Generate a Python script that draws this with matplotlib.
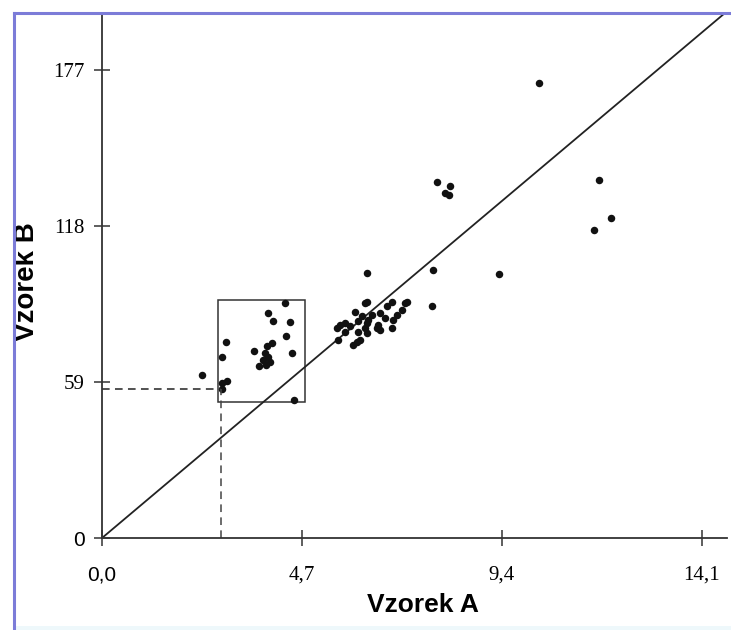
import matplotlib.pyplot as plt
from matplotlib.lines import Line2D
from matplotlib.patches import Rectangle

# points inside / near the highlighted box
box_a = [4.30, 3.89, 4.01, 4.42, 4.32, 2.91, 3.99, 3.88, 3.58, 4.46, 3.83,
         3.90, 3.78, 3.95, 3.85, 2.83, 3.69, 2.36, 2.93, 2.81, 2.81, 4.51]
box_b = [88.7, 85.1, 82.2, 81.7, 76.5, 74.3, 73.7, 72.7, 70.8, 70.1, 70.0,
         68.5, 67.4, 66.6, 65.5, 68.6, 65.1, 61.7, 59.5, 58.7, 56.3, 52.1]

# main cluster
cluster_a = [6.23, 6.24, 6.18, 7.18, 7.12, 6.81, 6.69, 7.04, 5.95, 6.53, 6.10,
             6.34, 6.93, 6.65, 5.59, 5.71, 5.83, 6.02, 6.22, 6.26, 6.49, 6.85,
             6.18, 6.46, 5.71, 5.52, 6.02, 6.53, 6.81, 6.22, 5.55, 5.99, 6.06, 5.91]
cluster_b = [100.4, 89.2, 88.7, 89.3, 88.9, 89.2, 87.7, 86.4, 85.4, 85.1, 83.9,
             84.5, 84.5, 83.2, 80.7, 81.3, 80.0, 81.9, 81.3, 82.6, 80.7, 82.6,
             79.4, 79.4, 78.1, 79.4, 78.1, 78.8, 79.4, 77.5, 75.0, 74.3, 75.0, 73.1]

# the rest
other_a = [7.77, 7.75, 10.26, 7.87, 8.18, 8.06, 8.16, 11.67, 11.96, 11.57, 9.34]
other_b = [101.2, 87.9, 172.0, 134.6, 133.3, 130.5, 129.8, 135.5, 121.0, 116.4, 99.7]

diag_a = [0, 14.6]
diag_b = [0, 198]

box_lo = (2.73, 51.4)
box_hi = (4.77, 90.0)
mark = (2.8, 56.3)

xticks = [0, 4.7, 9.4, 14.1]
xlabels = ['0,0', '4,7', '9,4', '14,1']
yticks = [0, 59, 118, 177]
ylabels = ['0', '59', '118', '177']

fig = plt.figure(figsize=(7.31, 6.3), dpi=100)
ax = fig.add_axes([102 / 731, 92 / 630, 625 / 731, 524 / 630])

ax.plot(diag_a, diag_b, color='#222222', lw=1.3)
for a, b in [(box_a, box_b), (cluster_a, cluster_b), (other_a, other_b)]:
    ax.plot(a, b, 'o', color='#111111', ms=5.4, mec='none')

ax.add_patch(Rectangle(box_lo, box_hi[0] - box_lo[0], box_hi[1] - box_lo[1],
                       fill=False, ec='#333333', lw=1.1))
ax.plot([0, mark[0]], [mark[1], mark[1]], ls=(0, (5, 3.5)), color='#222222', lw=1.1)
ax.plot([mark[0], mark[0]], [0, mark[1]], ls=(0, (5, 3.5)), color='#444444', lw=1.1)

ax.set_xlim(0, 14.69)
ax.set_ylim(0, 198.2)
for s in ['top', 'right']:
    ax.spines[s].set_visible(False)
for s in ['left', 'bottom']:
    ax.spines[s].set_linewidth(1.3)
    ax.spines[s].set_color('#333333')

ax.set_xticks(xticks)
ax.set_xticklabels(xlabels, family='Liberation Serif', fontsize=15)
ax.set_yticks(yticks)
ax.set_yticklabels(ylabels, family='Liberation Serif', fontsize=15)
ax.tick_params(direction='inout', length=11, width=1.1, color='#333333')
ax.tick_params(axis='x', pad=14)
ax.tick_params(axis='y', pad=7)
# zero labels are set in a sans font in the original
ax.get_xticklabels()[0].set_family('Liberation Sans')
ax.get_yticklabels()[0].set_family('Liberation Sans')

ax.set_xlabel('Vzorek A', family='Liberation Sans', fontweight='bold', fontsize=19)
ax.set_ylabel('Vzorek B', family='Liberation Sans', fontweight='bold', fontsize=20)
ax.xaxis.set_label_coords(321 / 625, -55 / 524)
ax.yaxis.set_label_coords(-62 / 625, 0.49)

# scanned page frame
fig.add_artist(Line2D([14 / 731, 14 / 731], [0, 617 / 630], color='#7c7cd8', lw=2.2))
fig.add_artist(Line2D([14 / 731, 730 / 731], [617 / 630, 617 / 630], color='#7c7cd8', lw=2.2))
fig.add_artist(Rectangle((15 / 731, 0), 716 / 731, 4 / 630, color='#eef8fb', lw=0))

fig.savefig('out.png', dpi=100)
